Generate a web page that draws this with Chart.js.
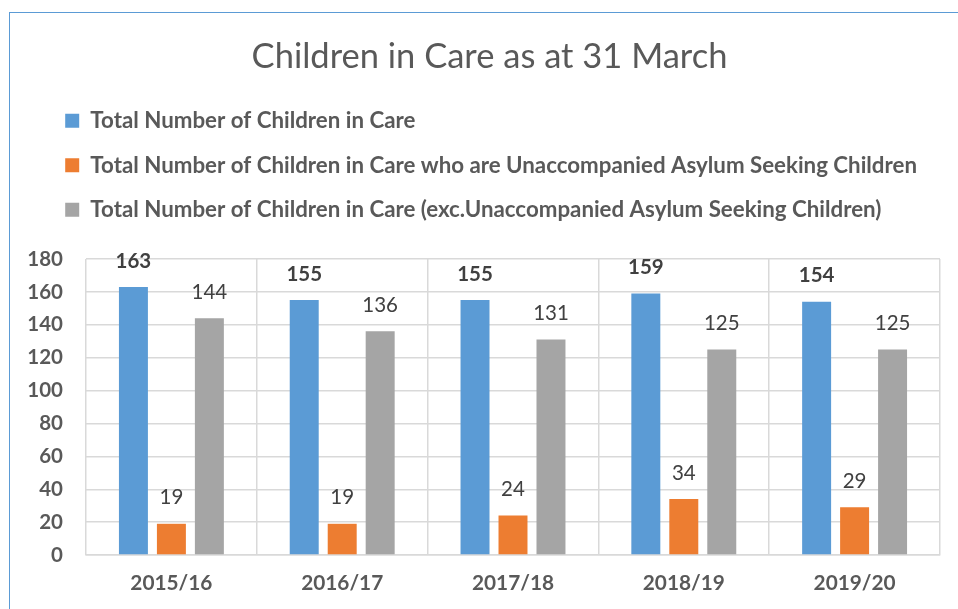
<!DOCTYPE html>
<html>
<head>
<meta charset="utf-8">
<script src="https://cdn.jsdelivr.net/npm/chart.js@4.4.1/dist/chart.umd.min.js"></script>
<style>
  html, body { margin: 0; padding: 0; background: #fff; overflow: hidden; width: 958px; height: 609px; }
  #frame { position: absolute; left: 9px; top: 12px; width: 980px; height: 640px; border: 1.5px solid #5b9bd5; box-sizing: border-box; }
  #wrap { position: absolute; left: 10px; top: 13px; width: 948px; height: 596px; }
  canvas { display: block; }
</style>
</head>
<body>
<div id="frame"></div>
<div id="wrap"><canvas id="c" width="948" height="596"></canvas></div>
<script>
const categories = ['2015/16', '2016/17', '2017/18', '2018/19', '2019/20'];
const totalChildren = [163, 155, 155, 159, 154];
const uascChildren = [19, 19, 24, 34, 29];
const excUascChildren = [144, 136, 131, 125, 125];
const seriesNames = [
  'Total Number of Children in Care',
  'Total Number of Children in Care who are Unaccompanied Asylum Seeking Children',
  'Total Number of Children in Care (exc.Unaccompanied Asylum Seeking Children)'
];
const yTicks = { min: 0, max: 180, step: 20 };

const FONT = 'Lato';
const TXT = '#595959';

const legendGap = {
  id: 'legendGap',
  beforeInit(chart) {
    const lg = chart.legend;
    const orig = lg.fit;
    lg.fit = function () { orig.bind(lg)(); this.height += 28; };
  },
  afterLayout(chart) {
    chart.legend.left += 18;
    chart.titleBlock.left += 7;
    chart.titleBlock.right += 7;
  }
};

const valueLabels = {
  id: 'valueLabels',
  afterDatasetsDraw(chart) {
    const ctx = chart.ctx;
    ctx.save();
    ctx.textAlign = 'center';
    ctx.textBaseline = 'middle';
    chart.data.datasets.forEach((ds, i) => {
      const meta = chart.getDatasetMeta(i);
      ctx.font = (i === 0 ? 'bold ' : '') + '20.5px ' + FONT;
      ctx.fillStyle = '#404040';
      meta.data.forEach((bar, j) => {
        ctx.fillText(String(ds.data[j]), bar.x, bar.y - 26);
      });
    });
    ctx.restore();
  }
};

new Chart(document.getElementById('c'), {
  type: 'bar',
  data: {
    labels: categories,
    datasets: [
      { label: seriesNames[0], data: totalChildren, backgroundColor: '#5b9bd5' },
      { label: seriesNames[1], data: uascChildren, backgroundColor: '#ed7d31' },
      { label: seriesNames[2], data: excUascChildren, backgroundColor: '#a5a5a5' }
    ]
  },
  options: {
    responsive: false,
    animation: false,
    devicePixelRatio: 1,
    layout: { padding: { left: 15, right: 18, top: 0, bottom: -3 } },
    datasets: { bar: { categoryPercentage: 0.667, barPercentage: 0.763 } },
    plugins: {
      title: {
        display: true,
        text: 'Children in Care as at 31 March',
        color: TXT,
        font: { family: FONT, size: 34.5, weight: 'normal' },
        padding: { top: 23.3, bottom: 9.8 }
      },
      legend: {
        display: true,
        position: 'top',
        align: 'start',
        labels: {
          color: TXT,
          font: { family: FONT, size: 22.3, weight: 'bold' },
          boxWidth: 14,
          boxHeight: 14,
          padding: 22.2
        }
      },
      tooltip: { enabled: false }
    },
    scales: {
      x: {
        grid: { color: '#d9d9d9', lineWidth: 1.5, drawTicks: false, offset: true },
        border: { color: '#d9d9d9', width: 1.5 },
        ticks: { color: TXT, font: { family: FONT, size: 20.8, weight: 'bold' }, padding: 16 }
      },
      y: {
        min: yTicks.min,
        max: yTicks.max,
        afterFit(scale) { scale.width = 61; },
        grid: { color: '#d9d9d9', lineWidth: 1.5, drawTicks: false },
        border: { display: false },
        ticks: { stepSize: yTicks.step, color: TXT, font: { family: FONT, size: 20.5, weight: 'bold' }, padding: 23 }
      }
    }
  },
  plugins: [legendGap, valueLabels]
});
</script>
</body>
</html>
